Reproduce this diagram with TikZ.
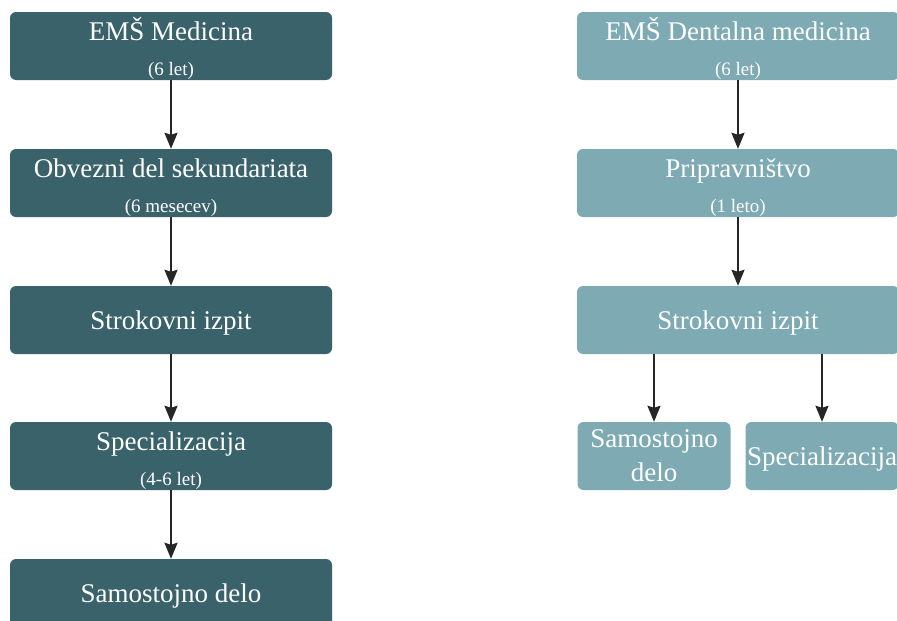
\documentclass[tikz,border=0pt]{standalone}
\usepackage{fontspec}
\setmainfont{Liberation Serif}
\usetikzlibrary{arrows.meta,calc}
\definecolor{dk}{HTML}{3A626B}
\definecolor{lt}{HTML}{7EAAB3}
\begin{document}
\begin{tikzpicture}[x=1pt,y=-1pt,
  box/.style={rounded corners=6pt, minimum width=322pt, minimum height=68pt, inner sep=0pt, text=white, align=center, text depth=0pt, font=\fontsize{27}{34}\selectfont},
  dkbox/.style={box, fill=dk},
  ltbox/.style={box, fill=lt},
  smallbox/.style={ltbox, minimum width=153pt},
  ttl/.style={text=white, font=\fontsize{27}{30}\selectfont, anchor=base, inner sep=0pt},
  sub/.style={text=white, font=\fontsize{19}{22}\selectfont, anchor=base, inner sep=0pt},
  arr/.style={line width=2pt, draw=black!85, -{Stealth[length=16pt,width=13pt,inset=2pt]}}]
\useasboundingbox (0,0) rectangle (897,621);
\clip (0,0) rectangle (897,621);
% left column
\node[dkbox] (a1) at (171,46) {};
\node[ttl] (a1t) at ($(a1.north)+(0,29)$) {EMŠ Medicina};
\node[sub] (a1s) at ($(a1.north)+(0,64)$) {(6 let)};
\node[dkbox] (a2) at (171,183) {};
\node[ttl] (a2t) at ($(a2.north)+(0,29)$) {Obvezni del sekundariata};
\node[sub] (a2s) at ($(a2.north)+(0,64)$) {(6 mesecev)};
\node[dkbox] (a3) at (171,320) {Strokovni izpit};
\node[dkbox] (a4) at (171,456) {};
\node[ttl] (a4t) at ($(a4.north)+(0,29)$) {Specializacija};
\node[sub] (a4s) at ($(a4.north)+(0,64)$) {(4-6 let)};
\node[dkbox] (a5) at (171,593) {Samostojno delo};
% right column
\node[ltbox] (r1) at (738,46) {};
\node[ttl] (r1t) at ($(r1.north)+(0,29)$) {EMŠ Dentalna medicina};
\node[sub] (r1s) at ($(r1.north)+(0,64)$) {(6 let)};
\node[ltbox] (r2) at (738,183) {};
\node[ttl] (r2t) at ($(r2.north)+(0,29)$) {Pripravništvo};
\node[sub] (r2s) at ($(r2.north)+(0,64)$) {(1 leto)};
\node[ltbox] (r3) at (738,320) {Strokovni izpit};
\node[smallbox] (s1) at (654,456) {Samostojno\\delo};
\node[smallbox] (s2) at (822,456) {Specializacija};
% arrows
\draw[arr] (a1.south) -- (a2.north);
\draw[arr] (a2.south) -- (a3.north);
\draw[arr] (a3.south) -- (a4.north);
\draw[arr] (a4.south) -- (a5.north);
\draw[arr] (r1.south) -- (r2.north);
\draw[arr] (r2.south) -- (r3.north);
\draw[arr] (r3.south -| s1.north) -- (s1.north);
\draw[arr] (r3.south -| s2.north) -- (s2.north);
\end{tikzpicture}
\end{document}
